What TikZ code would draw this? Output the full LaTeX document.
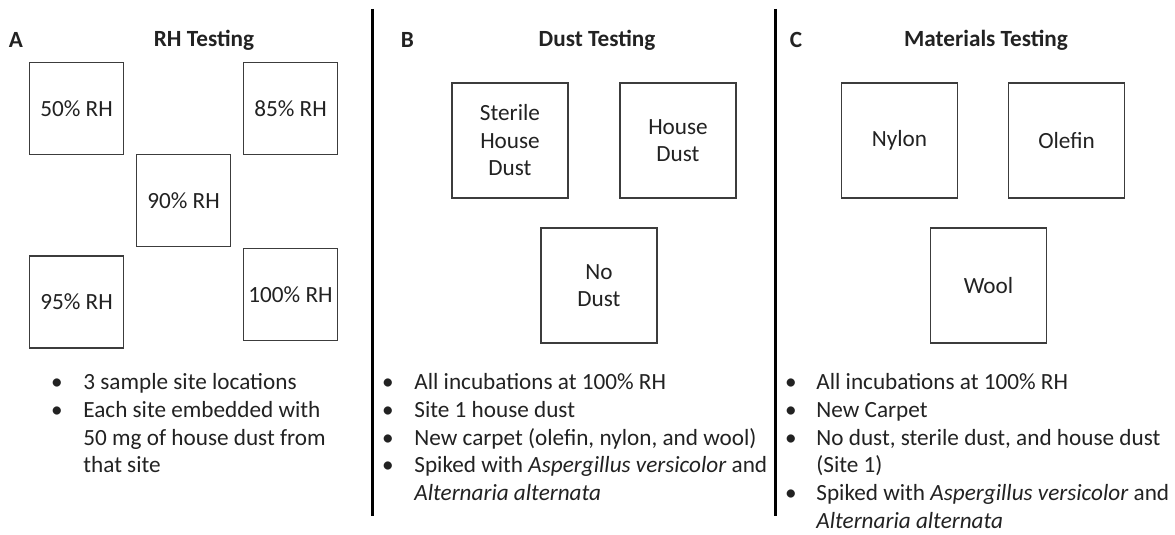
\documentclass[tikz,border=0pt]{standalone}
\usepackage{fontspec}
\setmainfont{Carlito}
\definecolor{txtc}{HTML}{222222}
\definecolor{boxc}{HTML}{3C3C3C}
\begin{document}
\begin{tikzpicture}[x=0.5pt,y=-0.5pt,
  every node/.style={font=\fontsize{11.6pt}{13.75pt}\selectfont, text=txtc},
  sq/.style={draw=boxc, line width=0.7pt, inner sep=0pt, align=center},
  sqa/.style={sq, minimum width=47pt, minimum height=46pt},
  sqb/.style={sq, minimum width=58pt, minimum height=57.5pt},
  ttl/.style={font=\fontsize{11.6pt}{13.75pt}\selectfont\bfseries, anchor=center, inner sep=0pt},
  bul/.style={anchor=base, inner sep=0pt},
  ln/.style={anchor=base west, inner sep=0pt},
  sep/.style={line width=1.5pt, black}
]
\useasboundingbox (0,0) rectangle (1175,535);
\fill[white] (0,0) rectangle (1175,535);

% separators
\coordinate (s1t) at (372,9);
\coordinate (s1b) at (372,516);
\coordinate (s2t) at (775,9);
\coordinate (s2b) at (775,516);
\draw[sep] (s1t) -- (s1b);
\draw[sep] (s2t) -- (s2b);

% titles
\node[ttl] (la) at (16,40) {A};
\node[ttl] (ta) at (204,40) {RH Testing};
\node[ttl] (lb) at (407.5,40) {B};
\node[ttl] (tb) at (597,40) {Dust Testing};
\node[ttl] (lc) at (796,40) {C};
\node[ttl] (tc) at (986,40) {Materials Testing};

% panel A boxes
\node[sqa] (a50) at (76.5,108.5) {50\% RH};
\node[sqa] (a85) at (290.5,108.5) {85\% RH};
\node[sqa] (a90) at (183.5,200.5) {90\% RH};
\node[sqa] (a95) at (76.5,302) {95\% RH};
\node[sqa] (a100) at (290.5,294.5) {100\% RH};

% panel B boxes
\node[sqb] (bster) at (510,140.5) {Sterile\\House\\Dust};
\node[sqb] (bhouse) at (678,140.5) {House\\Dust};
\node[sqb] (bno) at (599,285.5) {No\\Dust};

% panel C boxes
\node[sqb] (cnyl) at (899.5,140.5) {Nylon};
\node[sqb] (cole) at (1066.5,140.5) {Olefin};
\node[sqb] (cwool) at (988.5,285.5) {Wool};

% panel A bullets
\node[bul] (ab1) at (57,389.5) {•};
\node[ln] (at1) at (83,389.5) {3 sample site locations};
\node[bul] (ab2) at (57,417.3) {•};
\node[ln] (at2) at (83,417.3) {Each site embedded with};
\node[ln] (at3) at (83,445) {50 mg of house dust from};
\node[ln] (at4) at (83,472.8) {that site};

% panel B bullets
\node[bul] (bb1) at (388,389.5) {•};
\node[ln] (bt1) at (414,389.5) {All incubations at 100\% RH};
\node[bul] (bb2) at (388,417.3) {•};
\node[ln] (bt2) at (414,417.3) {Site 1 house dust};
\node[bul] (bb3) at (388,445) {•};
\node[ln] (bt3) at (414,445) {New carpet (olefin, nylon, and wool)};
\node[bul] (bb4) at (388,472.8) {•};
\node[ln] (bt4) at (414,472.8) {Spiked with \textit{Aspergillus versicolor} and};
\node[ln] (bt5) at (414,500.5) {\textit{Alternaria alternata}};

% panel C bullets
\node[bul] (cb1) at (791,389.5) {•};
\node[ln] (ct1) at (816,389.5) {All incubations at 100\% RH};
\node[bul] (cb2) at (791,417.3) {•};
\node[ln] (ct2) at (816,417.3) {New Carpet};
\node[bul] (cb3) at (791,445) {•};
\node[ln] (ct3) at (816,445) {No dust, sterile dust, and house dust};
\node[ln] (ct4) at (816,472.8) {(Site 1)};
\node[bul] (cb4) at (791,500.5) {•};
\node[ln] (ct5) at (816,500.5) {Spiked with \textit{Aspergillus versicolor} and};
\node[ln] (ct6) at (816,528.3) {\textit{Alternaria alternata}};
\end{tikzpicture}
\end{document}
